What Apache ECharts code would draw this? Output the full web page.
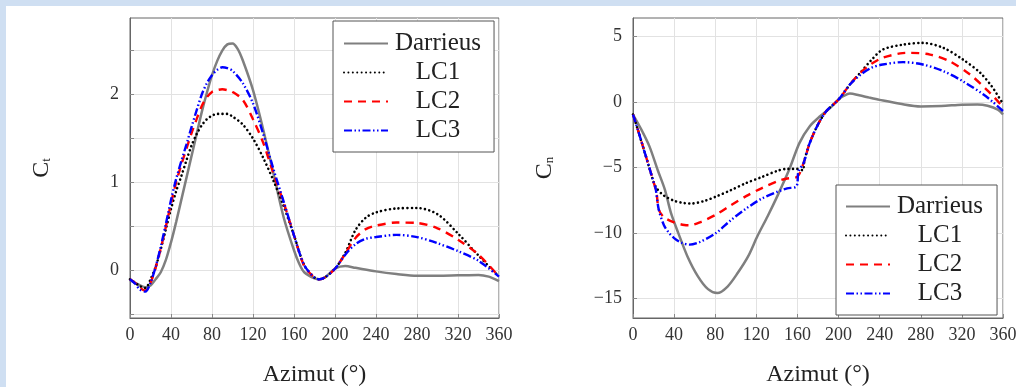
<!DOCTYPE html>
<html>
<head>
<meta charset="utf-8">
<script src="https://cdn.jsdelivr.net/npm/echarts@6/dist/echarts.min.js"></script>
<style>
html,body{margin:0;padding:0;background:#fff;}
#c{width:1016px;height:387px;}
</style>
</head>
<body>
<div id="c"></div>
<script>
// ---------- data: left panel (Ct) ----------
const seriesNames = ['Darrieus', 'LC1', 'LC2', 'LC3'];
const ctTicks = [-0.5, 0, 0.5, 1, 1.5, 2, 2.5];
const ctLabels = [0, 1, 2];
const cnTicks = [-15, -10, -5, 0, 5];

const ctDarrieusAz = [0,5,10,15,20,25,30,35,40,45,50,55,60,65,70,75,80,85,90,95,100,105,110,120,130,140,150,160,165,170,180,185,190,200,210,220,240,260,280,300,320,340,350,360];
const ctDarrieus   = [-0.11,-0.14,-0.17,-0.19,-0.17,-0.1,-0.02,0.12,0.32,0.55,0.8,1.05,1.3,1.55,1.8,2.02,2.22,2.38,2.5,2.57,2.58,2.52,2.39,2.05,1.6,1.1,0.6,0.23,0.08,-0.02,-0.09,-0.1,-0.08,0.02,0.05,0.03,-0.01,-0.04,-0.06,-0.06,-0.055,-0.05,-0.07,-0.12];

const ctLcAz = [0,5,10,15,20,25,30,35,40,45,50,55,60,65,70,75,80,85,90,95,100,110,120,130,140,150,160,170,180,185,190,200,210,220,230,240,260,280,300,320,340,360];
const ctLC1 = [-0.1,-0.14,-0.18,-0.2,-0.1,0.04,0.24,0.47,0.7,0.9,1.07,1.25,1.42,1.55,1.65,1.72,1.76,1.78,1.78,1.78,1.75,1.66,1.5,1.28,1.02,0.73,0.4,0.06,-0.08,-0.1,-0.08,0.02,0.2,0.46,0.6,0.66,0.705,0.71,0.64,0.42,0.17,-0.07];
const ctLC2 = [-0.1,-0.14,-0.2,-0.23,-0.14,0.03,0.25,0.5,0.76,1.0,1.2,1.38,1.56,1.72,1.87,1.97,2.03,2.05,2.06,2.05,2.03,1.94,1.72,1.45,1.1,0.77,0.4,0.05,-0.08,-0.1,-0.08,0.02,0.19,0.37,0.47,0.51,0.545,0.54,0.48,0.35,0.18,-0.07];
const ctLC3 = [-0.1,-0.15,-0.22,-0.24,-0.14,0.04,0.27,0.53,0.8,1.04,1.24,1.43,1.63,1.82,2.0,2.13,2.22,2.28,2.31,2.3,2.27,2.13,1.9,1.55,1.15,0.78,0.4,0.06,-0.08,-0.1,-0.08,0.02,0.18,0.3,0.36,0.38,0.405,0.38,0.31,0.22,0.11,-0.07];

// ---------- data: right panel (Cn) ----------
const cnDarrieusAz = [0,8,16,24,31,37,44,53,63,73,82,92,102,112,121,131,141,152,162,172,182,192,200,205,211,220,230,240,260,280,300,320,335,345,355,360];
const cnDarrieus   = [-0.97,-2.1,-3.4,-5.2,-6.7,-8.5,-10.0,-11.8,-13.3,-14.3,-14.6,-14.1,-13.05,-11.8,-10.26,-8.73,-7.1,-5.17,-3.13,-1.86,-1.1,-0.46,0.18,0.45,0.63,0.5,0.32,0.15,-0.15,-0.35,-0.32,-0.22,-0.2,-0.3,-0.6,-0.97];

const cnLC1Az = [0,5,10,15,20,23,30,40,50,57,70,81,95,110,125,141,150,160,165,167,172,180,188,200,211,221,232,243,263,282,302,321,338,349,354,360];
const cnLC1   = [-0.97,-2.2,-3.5,-4.8,-6.1,-6.6,-7.15,-7.55,-7.73,-7.76,-7.55,-7.22,-6.75,-6.2,-5.75,-5.25,-5.12,-5.12,-5.22,-4.4,-3.13,-1.73,-0.72,0.18,1.32,2.21,3.2,3.99,4.37,4.5,4.12,3.23,2.21,1.19,0.6,-0.15];

const cnLC2Az = [0,5,10,15,20,23,25,30,40,50,55,65,81,95,110,125,141,150,160,166,172,180,188,200,211,221,232,243,260,270,289,308,328,344,352,360];
const cnLC2   = [-0.97,-2.2,-3.5,-4.8,-6.1,-7.0,-8.2,-8.8,-9.2,-9.4,-9.42,-9.2,-8.6,-7.9,-7.2,-6.6,-6.05,-5.85,-5.7,-4.66,-3.13,-1.73,-0.72,0.18,1.32,2.2,2.9,3.36,3.7,3.74,3.61,3.1,2.08,0.94,0.3,-0.4];

const cnLC3Az = [0,5,10,15,20,22,25,30,35,40,47,55,65,81,95,110,125,141,150,159,161,166,172,180,188,200,211,221,232,243,263,282,302,321,341,350,360];
const cnLC3   = [-0.97,-2.2,-3.5,-4.8,-6.1,-6.6,-8.2,-9.4,-10.0,-10.4,-10.75,-10.9,-10.7,-10.0,-9.05,-8.15,-7.4,-6.85,-6.6,-6.45,-5.3,-4.66,-3.13,-1.73,-0.72,0.18,1.32,2.05,2.6,2.85,3.03,2.85,2.34,1.57,0.56,0.0,-0.7];

// ---------- chart ----------
const zip = (xs, ys) => xs.map((x, i) => [x, ys[i]]);
const serif = 'Liberation Serif';
const minus = s => String(s).replace('-', '\u2212');

const styles = {
  Darrieus: {color: '#7f7f7f', width: 2.5, type: 'solid', cap: 'butt'},
  LC1: {color: '#000000', width: 2.6, type: [0.01, 4.4], cap: 'round'},
  LC2: {color: '#ff0000', width: 2.4, type: [8, 6], cap: 'butt'},
  LC3: {color: '#0000ff', width: 2.4, type: [8, 2.5, 1.5, 2.5, 1.5, 2.5], cap: 'butt'}
};

function mk(name, xs, ys, idx) {
  const st = styles[name];
  return {
    name: name, type: 'line', xAxisIndex: idx, yAxisIndex: idx,
    data: zip(xs, ys), symbol: 'none', smooth: 0.3,
    lineStyle: {color: st.color, width: st.width, type: st.type, cap: st.cap},
    itemStyle: {color: st.color},
    z: name === 'Darrieus' ? 2 : 3
  };
}

function xAxis(idx) {
  return {
    type: 'value', gridIndex: idx, min: 0, max: 360, interval: 40,
    name: 'Azimut (°)', nameLocation: 'middle', nameGap: 45,
    nameTextStyle: {fontFamily: serif, fontSize: 24, color: '#222'},
    axisLine: {show: true, onZero: false, lineStyle: {color: '#666', width: 1}},
    axisTick: {show: true, inside: true, length: 4, lineStyle: {color: '#888'}},
    axisLabel: {fontFamily: serif, fontSize: 18, color: '#333', margin: 8},
    splitLine: {show: true, lineStyle: {color: '#e2e2e2', width: 1}}
  };
}

function yAxis(idx, min, max, ticks, labels, sub) {
  return {
    type: 'value', gridIndex: idx, min: min, max: max,
    name: '{a|C}{b|' + sub + '}', nameLocation: 'middle', nameGap: 76, nameRotate: 90,
    nameTextStyle: {rich: {a: {fontFamily: serif, fontSize: 24, color: '#222'}, b: {fontFamily: serif, fontSize: 13, color: '#222', padding: [10, 0, 0, 0]}}},
    axisLine: {show: true, onZero: false, lineStyle: {color: '#666'}},
    axisTick: {show: true, inside: true, length: 4, lineStyle: {color: '#888'}, customValues: ticks},
    axisLabel: {
      fontFamily: serif, fontSize: 18, color: '#333', margin: 11,
      customValues: labels,
      formatter: v => minus(v)
    },
    splitLine: {show: true, lineStyle: {color: '#e2e2e2', width: 1}}
  };
}

const legendRich = {t: {width: 90, align: 'center', fontFamily: serif, fontSize: 25, color: '#222'}};
function legend(left, top, pad) {
  return {
    orient: 'vertical', left: left, top: top, padding: pad,
    data: seriesNames, itemWidth: 44, itemHeight: 14, itemGap: 4,
    backgroundColor: '#fff', borderColor: '#555', borderWidth: 1,
    selectedMode: false,
    itemStyle: {color: 'rgba(0,0,0,0)', borderColor: 'rgba(0,0,0,0)', borderWidth: 0},
    formatter: n => '{t|' + n + '}',
    textStyle: {rich: legendRich}
  };
}

const chart = echarts.init(document.getElementById('c'), null, {renderer: 'canvas'});
chart.setOption({
  backgroundColor: '#ffffff',
  animation: false,
  graphic: [
    {type: 'rect', left: 0, top: 0, shape: {width: 1016, height: 6}, style: {fill: '#cfdff2'}, z: 100},
    {type: 'rect', left: 0, top: 0, shape: {width: 6, height: 387}, style: {fill: '#cfdff2'}, z: 100}
  ],
  grid: [
    {left: 130, top: 18, width: 369, height: 300, containLabel: false, outerBoundsMode: 'none', show: true, borderColor: '#666', borderWidth: 1, backgroundColor: 'transparent'},
    {left: 633, top: 18, width: 370, height: 300, containLabel: false, outerBoundsMode: 'none', show: true, borderColor: '#666', borderWidth: 1, backgroundColor: 'transparent'}
  ],
  xAxis: [xAxis(0), xAxis(1)],
  yAxis: [
    yAxis(0, -0.54, 2.87, ctTicks, ctLabels, 't'),
    yAxis(1, -16.5, 6.4, cnTicks, cnTicks, 'n')
  ],
  legend: [legend(333, 21, [10, 13, 9, 10]), legend(836, 185, [9, 14, 9, 9])],
  series: [
    mk('Darrieus', ctDarrieusAz, ctDarrieus, 0),
    mk('LC1', ctLcAz, ctLC1, 0),
    mk('LC2', ctLcAz, ctLC2, 0),
    mk('LC3', ctLcAz, ctLC3, 0),
    mk('Darrieus', cnDarrieusAz, cnDarrieus, 1),
    mk('LC1', cnLC1Az, cnLC1, 1),
    mk('LC2', cnLC2Az, cnLC2, 1),
    mk('LC3', cnLC3Az, cnLC3, 1)
  ]
});
</script>
</body>
</html>
